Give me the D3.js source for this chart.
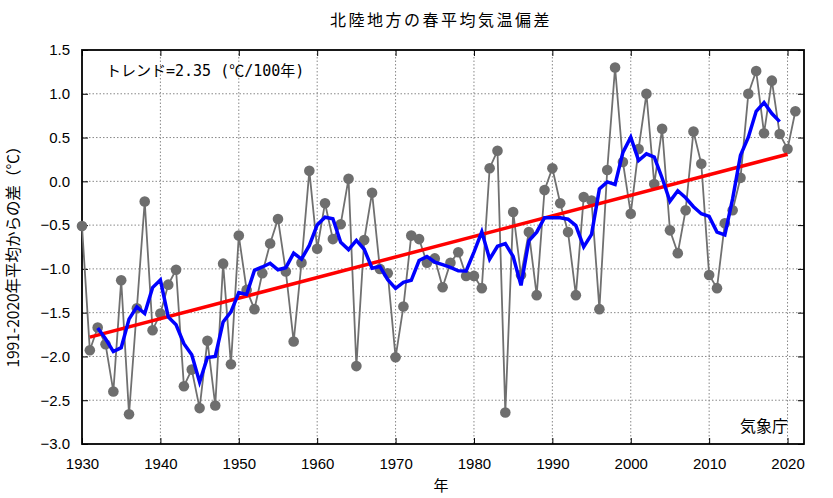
<!DOCTYPE html>
<html>
<head>
<meta charset="utf-8">
<style>
    body { margin: 0; background: #fff; }
    svg text { fill: #000; }
    .grid line { stroke: #888; stroke-dasharray: 1.5,2; stroke-width: 1; }
    .tick-lbl { font-family: "Liberation Sans", Arial, sans-serif; font-size: 15px; }
    .jp { font-family: "Noto Sans CJK JP", sans-serif; }
</style>
<script src="https://cdn.jsdelivr.net/npm/d3@7"></script>
</head>
<body>
<div id="chart"></div>
<script>
    // spring mean temperature anomaly, Hokuriku (deg C, from 1991-2020 normal)
    let firstYear = 1930;
    let anomalies = [
        -0.51, -1.93, -1.67, -1.86, -2.40, -1.13, -2.66, -1.45, -0.23, -1.70,
        -1.51, -1.18, -1.01, -2.34, -2.15, -2.59, -1.82, -2.56, -0.94, -2.09,
        -0.62, -1.24, -1.46, -1.05, -0.71, -0.43, -1.03, -1.83, -0.93, 0.12,
        -0.77, -0.25, -0.66, -0.49, 0.03, -2.11, -0.67, -0.13, -1.00, -1.05,
        -2.01, -1.43, -0.62, -0.66, -0.93, -0.88, -1.21, -0.93, -0.81, -1.08,
        -1.08, -1.22, 0.15, 0.35, -2.64, -0.35, -1.07, -0.58, -1.30, -0.10,
        0.15, -0.25, -0.58, -1.30, -0.18, -0.22, -1.46, 0.13, 1.30, 0.22,
        -0.37, 0.37, 1.00, -0.03, 0.60, -0.56, -0.82, -0.33, 0.57, 0.20,
        -1.07, -1.22, -0.48, -0.33, 0.04, 1.00, 1.26, 0.55, 1.15, 0.54,
        0.37, 0.80
    ];
    // trend line end points
    let trendYears = [1931, 2020];
    let trendValues = [-1.78, 0.31];
    let trendLabel = "トレンド=2.35 (℃/100年)";

    let xTicks = [1930, 1940, 1950, 1960, 1970, 1980, 1990, 2000, 2010, 2020];
    let yTicks = [-3.0, -2.5, -2.0, -1.5, -1.0, -0.5, 0.0, 0.5, 1.0, 1.5];

    let series = anomalies.map((v, i) => ({ year: firstYear + i, value: v }));

    // centered 5-year running mean
    let runMean = [];
    for (let i = 2; i < series.length - 2; i++) {
        let s = d3.mean(series.slice(i - 2, i + 3), d => d.value);
        runMean.push({ year: series[i].year, value: s });
    }
    let trend = trendYears.map((y, i) => ({ year: y, value: trendValues[i] }));

    let width = 833, height = 498;
    let margin = { top: 50, left: 82, right: 29, bottom: 54 };
    let bodyWidth = width - margin.left - margin.right;
    let bodyHeight = height - margin.top - margin.bottom;

    let svg = d3.select("#chart").append("svg")
        .attr("width", width)
        .attr("height", height);

    let xScale = d3.scaleLinear().domain([1930, 2022.1]).range([0, bodyWidth]);
    let yScale = d3.scaleLinear().domain([-3.0, 1.5]).range([bodyHeight, 0]);

    let g = svg.append("g")
        .attr("transform", "translate(" + [margin.left, margin.top] + ")");

    // dotted grid
    let grid = g.append("g").attr("class", "grid");
    xTicks.slice(1).forEach(t => {
        grid.append("line")
            .attr("x1", xScale(t)).attr("x2", xScale(t))
            .attr("y1", 0).attr("y2", bodyHeight);
    });
    yTicks.slice(1, -1).forEach(t => {
        grid.append("line")
            .attr("x1", 0).attr("x2", bodyWidth)
            .attr("y1", yScale(t)).attr("y2", yScale(t));
    });

    // axes with inward ticks, labels drawn by the library
    let axisB = d3.axisBottom(xScale).tickValues(xTicks).tickFormat(d3.format("d"))
        .tickSizeInner(-6).tickSizeOuter(0).tickPadding(14);
    let axisT = d3.axisTop(xScale).tickValues(xTicks).tickFormat("")
        .tickSizeInner(-6).tickSizeOuter(0);
    let axisL = d3.axisLeft(yScale).tickValues(yTicks).tickFormat(d3.format(".1f"))
        .tickSizeInner(-6).tickSizeOuter(0).tickPadding(12);
    let axisR = d3.axisRight(yScale).tickValues(yTicks).tickFormat("")
        .tickSizeInner(-6).tickSizeOuter(0);

    let ax = [
        g.append("g").attr("transform", "translate(0," + bodyHeight + ")").call(axisB),
        g.append("g").call(axisT),
        g.append("g").call(axisL),
        g.append("g").attr("transform", "translate(" + bodyWidth + ",0)").call(axisR)
    ];
    ax.forEach(a => {
        a.select(".domain").remove();
        a.selectAll(".tick line").attr("stroke", "#000").attr("stroke-width", 1);
        a.selectAll("text").attr("class", "tick-lbl").attr("fill", "#000");
    });

    // frame
    g.append("rect")
        .attr("width", bodyWidth).attr("height", bodyHeight)
        .attr("fill", "none").attr("stroke", "#000").attr("stroke-width", 1.8);

    let line = d3.line().x(d => xScale(d.year)).y(d => yScale(d.value));

    g.append("path").datum(series)
        .attr("d", line).attr("fill", "none")
        .attr("stroke", "#707070").attr("stroke-width", 1.8);

    g.selectAll("circle.pt").data(series).enter().append("circle")
        .attr("class", "pt")
        .attr("cx", d => xScale(d.year))
        .attr("cy", d => yScale(d.value))
        .attr("r", 5.3)
        .attr("fill", "#6e6e6e");

    g.append("path").datum(trend)
        .attr("d", line).attr("fill", "none")
        .attr("stroke", "#ff0000").attr("stroke-width", 3.5);

    g.append("path").datum(runMean)
        .attr("d", line).attr("fill", "none")
        .attr("stroke", "#0000ff").attr("stroke-width", 3.5)
        .attr("stroke-linejoin", "miter");

    // texts
    g.append("text")
        .attr("x", 24).attr("y", 26)
        .attr("font-family", "'DejaVu Sans Mono', 'Noto Sans CJK JP', monospace")
        .attr("font-size", 15)
        .text(trendLabel);

    g.append("text")
        .attr("class", "jp")
        .attr("x", bodyWidth - 16).attr("y", bodyHeight - 12)
        .attr("text-anchor", "end")
        .attr("font-size", 16)
        .text("気象庁");

    svg.append("text")
        .attr("class", "jp")
        .attr("x", 441).attr("y", 26)
        .attr("text-anchor", "middle")
        .attr("font-size", 16)
        .attr("letter-spacing", 2.5)
        .text("北陸地方の春平均気温偏差");

    svg.append("text")
        .attr("class", "jp")
        .attr("x", 441).attr("y", 491)
        .attr("text-anchor", "middle")
        .attr("font-size", 15)
        .text("年");

    svg.append("text")
        .attr("class", "jp")
        .attr("transform", "translate(19,253) rotate(-90)")
        .attr("text-anchor", "middle")
        .attr("font-size", 15.5)
        .text("1991-2020年平均からの差（℃）");
</script>
</body>
</html>
